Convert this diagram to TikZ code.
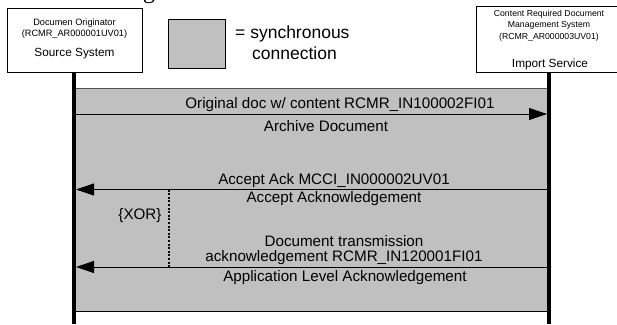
\documentclass[tikz,border=0pt]{standalone}
\usepackage{fontspec}
\setmainfont{Liberation Sans}
\newfontfamily\captionserif{Liberation Serif}
\usetikzlibrary{arrows.meta}
\definecolor{syncgray}{HTML}{C0C0C0}
\definecolor{edgegray}{HTML}{505050}
\newcommand{\fsz}[1]{\fontsize{#1}{#1}\selectfont}
\tikzset{
  actorbox/.style={draw=black, line width=0.9pt, fill=white},
  lbl/.style={inner sep=0pt, font=\fsz{15.2}},
  small/.style={inner sep=0pt},
  lifeline/.style={line width=4pt, black},
  msg/.style={line width=0.9pt, -{Triangle[length=18pt,width=12pt]}},
  xorline/.style={line width=1.2pt, dash pattern=on 2pt off 1.6pt},
}
\begin{document}
\begin{tikzpicture}[x=1pt,y=-1pt]
\useasboundingbox (0,0) rectangle (617,324);

% descender of the caption line above the figure
\node[inner sep=0pt, anchor=base, font=\captionserif\fsz{24}] (capg) at (149,-1.5) {g};

% synchronous region
\fill[syncgray] (74,88) rectangle (549,311);
\draw[edgegray, line width=0.9pt] (74,88) -- (549,88);
\draw[black, line width=0.9pt] (74,311) -- (549,311);

% lifelines
\coordinate (srcTop) at (74,72);
\coordinate (srcBot) at (74,324);
\coordinate (impTop) at (549,72);
\coordinate (impBot) at (549,324);
\draw[lifeline] (srcTop) -- (srcBot);
\draw[lifeline] (impTop) -- (impBot);

% actor boxes
\draw[actorbox] (7,8) rectangle (142,72);
\node[small, font=\fsz{9.2}] (srcA) at (74.5,23) {Documen Originator};
\node[small, font=\fsz{9.2}] (srcB) at (74.5,34) {(RCMR\_AR000001UV01)};
\node[small, font=\fsz{11.8}] (srcC) at (74.5,54) {Source System};

\draw[actorbox] (476,6) rectangle (617,72);
\node[small, font=\fsz{8.7}] (impA) at (549,14) {Content Required Document};
\node[small, font=\fsz{8.7}] (impB) at (549,25.5) {Management System};
\node[small, font=\fsz{8.7}] (impC) at (549,37.5) {(RCMR\_AR000003UV01)};
\node[small, font=\fsz{11.8}] (impD) at (550,64) {Import Service};

% legend
\draw[fill=syncgray, line width=0.8pt] (168,19) rectangle (225,68);
\node[small, font=\fsz{17.5}, anchor=west] (leg1) at (235,34) {= synchronous};
\node[small, font=\fsz{17.5}, anchor=west] (leg2) at (252,53) {connection};

% messages
\coordinate (m1s) at (76,114);
\coordinate (m1e) at (547,114);
\draw[msg] (m1s) -- (m1e);
\node[lbl] (m1a) at (340,105) {Original doc w/ content RCMR\_IN100002FI01};
\node[lbl] (m1b) at (326,126) {Archive Document};

\coordinate (m2s) at (547,189.5);
\coordinate (m2e) at (76,189.5);
\draw[msg] (m2s) -- (m2e);
\node[lbl] (m2a) at (334,181) {Accept Ack MCCI\_IN000002UV01};
\node[lbl] (m2b) at (334,198.5) {Accept Acknowledgement};

\coordinate (m3s) at (547,267);
\coordinate (m3e) at (76,267);
\draw[msg] (m3s) -- (m3e);
\node[lbl] (m3a) at (344,241.5) {Document transmission};
\node[lbl] (m3b) at (344,258) {acknowledgement RCMR\_IN120001FI01};
\node[lbl] (m3c) at (345,277.5) {Application Level Acknowledgement};

% alternative marker
\coordinate (xorTop) at (169,189.5);
\coordinate (xorBot) at (169,267);
\draw[xorline] (xorTop) -- (xorBot);
\node[lbl] (xor) at (140,216) {\{XOR\}};
\end{tikzpicture}
\end{document}
